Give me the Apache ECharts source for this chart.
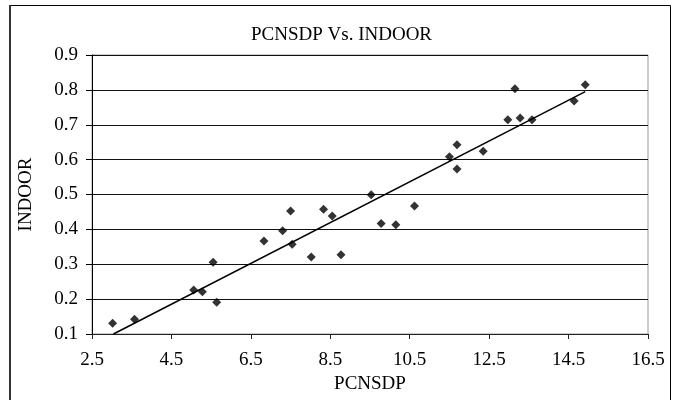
<!DOCTYPE html>
<html>
<head>
<meta charset="utf-8">
<script src="https://cdn.jsdelivr.net/npm/echarts@6/dist/echarts.min.js"></script>
<style>
html,body{margin:0;padding:0;background:#fff;}
#chart{width:683px;height:400px;}
</style>
</head>
<body>
<div id="chart"></div>
<script>
// ---- data ----
var pcnsdp = [3.02, 3.57, 5.06, 5.28, 5.55, 5.64, 6.83, 7.30, 7.50, 7.54, 8.02, 8.33, 8.55, 8.77, 9.53, 9.78, 10.15, 10.62, 11.50, 11.69, 11.69, 12.35, 12.97, 13.15, 13.28, 13.58, 14.64, 14.92];
var indoor = [0.131, 0.142, 0.226, 0.221, 0.306, 0.191, 0.367, 0.396, 0.453, 0.357, 0.321, 0.458, 0.438, 0.327, 0.499, 0.417, 0.413, 0.467, 0.608, 0.643, 0.573, 0.624, 0.714, 0.803, 0.719, 0.714, 0.768, 0.815];
var trendX = [3.04, 14.92];
var trendY = [0.100, 0.795];
var xTickLabels = ['2.5', '4.5', '6.5', '8.5', '10.5', '12.5', '14.5', '16.5'];
var yTickLabels = ['0.1', '0.2', '0.3', '0.4', '0.5', '0.6', '0.7', '0.8', '0.9'];
var titleText = 'PCNSDP Vs. INDOOR';
var xName = 'PCNSDP';
var yName = 'INDOOR';

// x axis is offset so its ticks start at 2.5 with a step of 2
var xStart = parseFloat(xTickLabels[0]);
var xStep = parseFloat(xTickLabels[1]) - xStart;
var xEnd = parseFloat(xTickLabels[xTickLabels.length - 1]);

var scatterData = pcnsdp.map(function (x, i) { return [x - xStart, indoor[i]]; });
var trendData = trendX.map(function (x, i) { return [x - xStart, trendY[i]]; });

var FONT = '"Liberation Serif", "Times New Roman", serif';
var chart = echarts.init(document.getElementById('chart'), null, {renderer: 'canvas'});
chart.setOption({
  backgroundColor: '#fff',
  animation: false,
  title: {
    text: titleText,
    left: 'center',
    top: 21,
    textStyle: {fontFamily: FONT, fontSize: 19, fontWeight: 'normal', color: '#000'}
  },
  graphic: [
    {type: 'rect', shape: {x: 9.5, y: 5.5, width: 661, height: 420}, style: {fill: 'none', stroke: '#000', lineWidth: 1}, silent: true, z: 100},
    {type: 'line', shape: {x1: 10, y1: 5, x2: 10, y2: 400}, style: {stroke: '#333', lineWidth: 2}, silent: true, z: 101}
  ],
  grid: {
    left: 92, right: 35, top: 55, bottom: 66,
    show: true, borderColor: '#999', borderWidth: 1,
    outerBoundsMode: 'none'
  },
  xAxis: {
    type: 'value',
    min: 0,
    max: xEnd - xStart,
    interval: xStep,
    name: xName,
    nameLocation: 'middle',
    nameGap: 40,
    nameTextStyle: {fontFamily: FONT, fontSize: 19, color: '#000'},
    axisLine: {show: true, onZero: false, lineStyle: {color: '#222', width: 1}},
    axisTick: {show: true, inside: false, length: 5, lineStyle: {color: '#222'}},
    axisLabel: {
      fontFamily: FONT, fontSize: 19, color: '#000', margin: 17,
      formatter: function (v) { return xTickLabels[Math.round(v / xStep)]; }
    },
    splitLine: {show: false}
  },
  yAxis: {
    type: 'value',
    min: 0.1,
    max: 0.9,
    interval: 0.1,
    name: yName,
    nameLocation: 'middle',
    nameGap: 56,
    nameTextStyle: {fontFamily: FONT, fontSize: 19, color: '#000'},
    axisLine: {show: true, onZero: false, lineStyle: {color: '#000', width: 1}},
    axisTick: {show: true, inside: false, length: 6, lineStyle: {color: '#000'}},
    axisLabel: {
      fontFamily: FONT, fontSize: 19, color: '#000', margin: 14,
      formatter: function (v) { return yTickLabels[Math.round((v - 0.1) / 0.1)]; }
    },
    splitLine: {show: true, lineStyle: {color: '#111', width: 1}}
  },
  series: [
    {
      type: 'scatter',
      data: scatterData,
      symbol: 'diamond',
      symbolSize: 9,
      itemStyle: {color: '#000'},
      z: 3
    },
    {
      type: 'line',
      data: trendData,
      symbol: 'none',
      lineStyle: {color: '#000', width: 1.5},
      z: 2
    }
  ]
});
</script>
</body>
</html>
